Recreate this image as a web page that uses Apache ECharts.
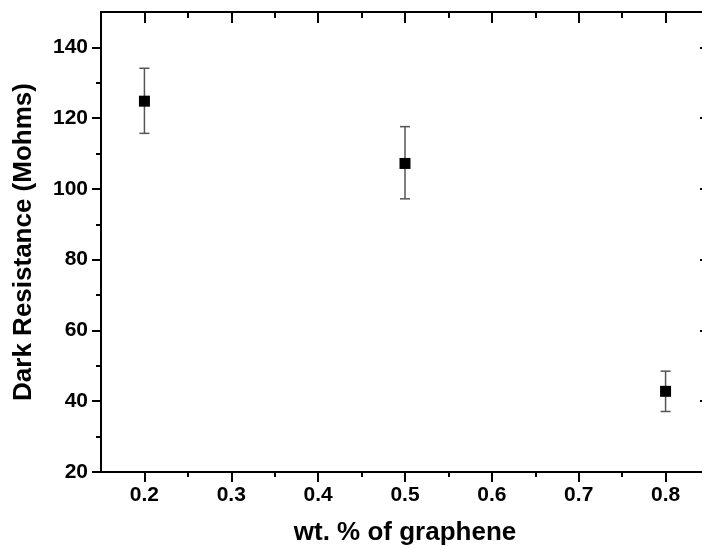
<!DOCTYPE html>
<html>
<head>
<meta charset="utf-8">
<script src="https://cdn.jsdelivr.net/npm/echarts@6/dist/echarts.min.js"></script>
<style>
    html, body { margin: 0; padding: 0; background: #fff; }
    #chart { width: 702px; height: 548px; }
</style>
</head>
<body>
<div id="chart"></div>
<script>
// values
const xValues = [0.2, 0.5, 0.8];
const yValues = [124.8, 107.2, 42.8];
const yLow = [115.7, 97.2, 37.1];
const yHigh = [134.1, 117.6, 48.5];

const xMajor = [0.2, 0.3, 0.4, 0.5, 0.6, 0.7, 0.8];
const xMinor = [0.25, 0.35, 0.45, 0.55, 0.65, 0.75];
const yMajor = [20, 40, 60, 80, 100, 120, 140];
const yMinor = [30, 50, 70, 90, 110, 130];

const font = "'Liberation Sans', Arial, sans-serif";

const tickAxis = (base, values, len, inside) => ({
    ...base,
    axisLine: { show: false },
    axisLabel: { show: false },
    splitLine: { show: false },
    axisTick: {
        show: true,
        inside: inside,
        length: len,
        customValues: values,
        lineStyle: { color: "#000", width: 2 }
    }
});

const xBase = { type: "value", min: 0.15, max: 0.85 };
const yBase = { type: "value", min: 20, max: 150 };
const line = { show: true, onZero: false, lineStyle: { color: "#000", width: 2 } };
const titleStyle = { fontFamily: font, fontWeight: "bold", fontSize: 26, color: "#000" };
const labelStyle = { fontFamily: font, fontWeight: "bold", fontSize: 21, color: "#000" };

const myChart = echarts.init(document.getElementById("chart"));
const options = {
    animation: false,
    backgroundColor: "#fff",
    grid: {
        left: 101,
        right: -7,
        top: 12,
        bottom: 76,
        outerBoundsMode: "none"
    },
    xAxis: [
        {
            ...xBase,
            position: "bottom",
            name: "wt. % of graphene",
            nameLocation: "middle",
            nameGap: 48,
            nameTextStyle: titleStyle,
            axisLine: line,
            splitLine: { show: false },
            axisTick: { show: true, length: 10, customValues: xMajor, lineStyle: { color: "#000", width: 2 } },
            axisLabel: {
                ...labelStyle,
                customValues: xMajor,
                margin: 13,
                formatter: v => v.toFixed(1)
            }
        },
        tickAxis({ ...xBase, position: "bottom" }, xMinor, 5, false),
        { ...tickAxis({ ...xBase, position: "top" }, xMajor, 11, true), axisLine: line },
        tickAxis({ ...xBase, position: "top" }, xMinor, 6, true)
    ],
    yAxis: [
        {
            ...yBase,
            position: "left",
            name: "Dark Resistance (Mohms)",
            nameLocation: "middle",
            nameRotate: 90,
            nameGap: 64,
            nameTextStyle: titleStyle,
            axisLine: line,
            splitLine: { show: false },
            axisTick: { show: true, length: 9, customValues: yMajor, lineStyle: { color: "#000", width: 2 } },
            axisLabel: {
                ...labelStyle,
                customValues: yMajor,
                margin: 13
            }
        },
        tickAxis({ ...yBase, position: "left" }, yMinor, 5, false),
        { ...tickAxis({ ...yBase, position: "right" }, yMajor, 9, true), axisLine: line },
        tickAxis({ ...yBase, position: "right" }, yMinor, 5, true)
    ],
    series: [
        {
            type: "custom",
            xAxisIndex: 0,
            yAxisIndex: 0,
            data: xValues.map((x, i) => [x, yLow[i], yHigh[i]]),
            renderItem: (params, api) => {
                const top = api.coord([api.value(0), api.value(2)]);
                const bottom = api.coord([api.value(0), api.value(1)]);
                const half = 5;
                const style = { stroke: "#555", lineWidth: 1.5 };
                return {
                    type: "group",
                    children: [
                        { type: "line", shape: { x1: top[0], y1: top[1], x2: bottom[0], y2: bottom[1] }, style },
                        { type: "line", shape: { x1: top[0] - half, y1: top[1], x2: top[0] + half, y2: top[1] }, style },
                        { type: "line", shape: { x1: bottom[0] - half, y1: bottom[1], x2: bottom[0] + half, y2: bottom[1] }, style }
                    ]
                };
            },
            z: 2
        },
        {
            type: "scatter",
            xAxisIndex: 0,
            yAxisIndex: 0,
            data: xValues.map((x, i) => [x, yValues[i]]),
            symbol: "rect",
            symbolSize: 11,
            itemStyle: { color: "#000", opacity: 1 },
            z: 3
        }
    ]
};
myChart.setOption(options);
</script>
</body>
</html>
